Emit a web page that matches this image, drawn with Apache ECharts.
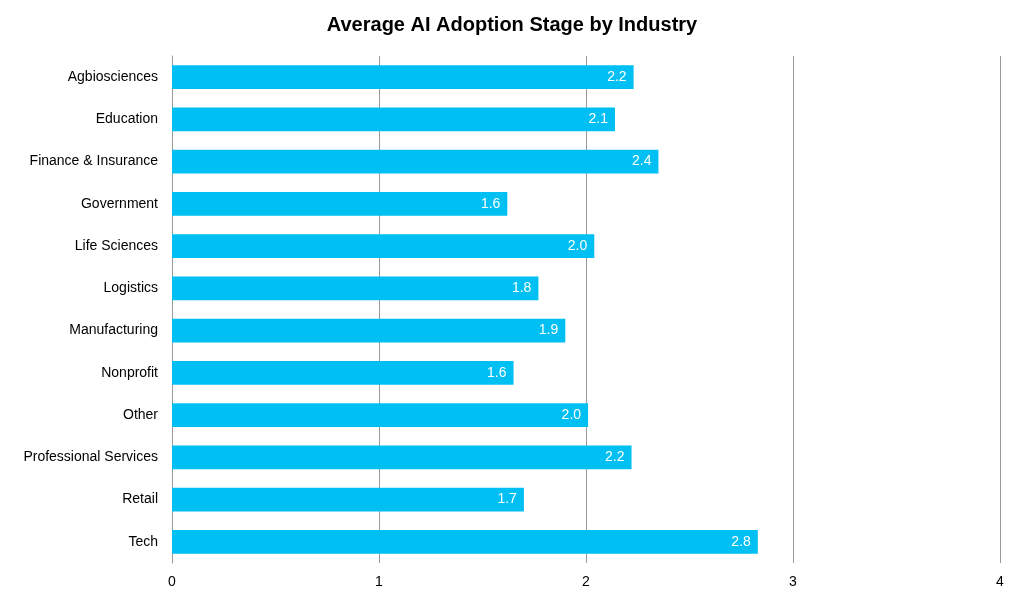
<!DOCTYPE html>
<html><head><meta charset="utf-8">
<script src="https://cdn.jsdelivr.net/npm/echarts@6/dist/echarts.min.js"></script>
<style>html,body{margin:0;background:#fff}#c{width:1024px;height:611px}</style>
</head><body><div id="c"></div>
<script>
const categories = ["Agbiosciences","Education","Finance & Insurance","Government","Life Sciences","Logistics","Manufacturing","Nonprofit","Other","Professional Services","Retail","Tech"];
const values = [2.23,2.14,2.35,1.62,2.04,1.77,1.90,1.65,2.01,2.22,1.70,2.83];
const chart = echarts.init(document.getElementById('c'));
chart.setOption({
  title:{text:'Average AI Adoption Stage by Industry',left:'center',top:10,textStyle:{fontFamily:'Liberation Sans',fontSize:20,fontWeight:'bold',color:'#000'}},
  grid:{left:172,right:24,top:56,bottom:48},
  xAxis:{type:'value',min:0,max:4,interval:1,axisLine:{show:false},axisTick:{show:false},
    splitLine:{lineStyle:{color:'#999',width:1}},
    axisLabel:{color:'#000',fontFamily:'Liberation Sans',fontSize:14,margin:12}},
  yAxis:{type:'category',data:categories,inverse:true,axisLine:{show:true,lineStyle:{color:'#999'}},axisTick:{show:false},
    axisLabel:{color:'#000',fontFamily:'Liberation Sans',fontSize:14,margin:14}},
  series:[{type:'bar',data:values,barCategoryGap:'44%',itemStyle:{color:'#00BFF3'},
    label:{show:true,position:'insideRight',color:'#fff',fontFamily:'Liberation Sans',fontSize:14,offset:[-2,0],formatter:p=>p.value.toFixed(1)}}]
});
</script></body></html>
